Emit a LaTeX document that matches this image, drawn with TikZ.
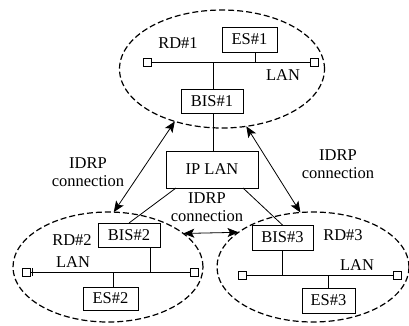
\documentclass[tikz,border=0pt]{standalone}
\usepackage{fontspec}
\setmainfont{Liberation Serif}
\usetikzlibrary{shapes.geometric,arrows.meta,calc}
\begin{document}
\begin{tikzpicture}[x=1pt,y=-1pt,
  font=\fontsize{16.5}{18}\selectfont,
  box/.style={draw,line width=0.8pt,inner sep=0pt,outer sep=0pt},
  term/.style={draw,line width=0.8pt,minimum size=8pt,inner sep=0pt,outer sep=0pt},
  rd/.style={draw,ellipse,dash pattern=on 6pt off 3pt,line width=1.2pt,inner sep=0pt,outer sep=0pt},
  wire/.style={line width=0.8pt},
  idrp/.style={line width=0.8pt,{Stealth[length=11pt,width=9pt,inset=2.5pt]}-{Stealth[length=11pt,width=9pt,inset=2.5pt]}},
  lbl/.style={inner sep=0pt,align=center}]
\useasboundingbox (0,0) rectangle (409,325);
% routing domains
\node[rd,minimum width=205pt,minimum height=118pt] (rd1) at (222,69) {};
\node[rd,minimum width=190pt,minimum height=110pt] (rd2) at (108,267) {};
\node[rd,minimum width=192pt,minimum height=110pt] (rd3) at (313,267) {};
% boxes
\node[box,minimum width=55pt,minimum height=25pt] (es1) at (249.5,39.5) {ES\#1};
\node[box,minimum width=62pt,minimum height=24pt] (bis1) at (212,101) {BIS\#1};
\node[box,minimum width=92pt,minimum height=37pt] (iplan) at (212,169.5) {IP LAN};
\node[box,minimum width=62pt,minimum height=24pt] (bis2) at (129,235) {BIS\#2};
\node[box,minimum width=55pt,minimum height=23pt] (es2) at (110.5,298.5) {ES\#2};
\node[box,minimum width=61pt,minimum height=25pt] (bis3) at (282.5,237.5) {BIS\#3};
\node[box,minimum width=53pt,minimum height=25pt] (es3) at (328.5,300.5) {ES\#3};
% LAN terminators
\node[term] (t1l) at (147,62.5) {};
\node[term] (t1r) at (314,62.5) {};
\node[term] (t2l) at (26,272) {};
\node[term] (t2r) at (194,272) {};
\node[term] (t3l) at (242.5,275) {};
\node[term] (t3r) at (397.5,275) {};
% LAN buses
\draw[wire] (t1l.east) -- (t1r.west);
\draw[wire] (t2l.east) -- (t2r.west);
\draw[wire] ([xshift=2pt]t2l.east) ++(0,-4) -- ++(0,8);
\draw[wire] (t3l.east) -- (t3r.west);
% drops
\draw[wire] ([xshift=5.5pt]es1.south) -- ([xshift=5.5pt]es1.south |- t1l.east);
\draw[wire] ([xshift=1pt]bis1.north) -- ([xshift=1pt]bis1.north |- t1l.east);
\draw[wire] ([xshift=1pt]bis1.south) -- ([xshift=1pt]bis1.south |- iplan.north);
\draw[wire] ([xshift=21pt]bis2.south) -- ([xshift=21pt]bis2.south |- t2l.east);
\draw[wire] ([xshift=2.5pt]es2.north) -- ([xshift=2.5pt]es2.north |- t2l.east);
\draw[wire] (bis3.south) -- (bis3.south |- t3l.east);
\draw[wire] (es3.north) -- (es3.north |- t3l.east);
% IP LAN links
\draw[wire] ([xshift=10pt]iplan.south west) -- (bis2.north);
\draw[wire] ([xshift=-15pt]iplan.south east) -- (bis3.north);
% IDRP connections
\draw[idrp] (rd1.228) -- (rd2.84);
\draw[idrp] (rd1.293) -- (rd3.103);
\draw[idrp] (rd2.24) -- (rd3.155);
% labels
\node[lbl] (rd1l) at (178,43) {RD\#1};
\node[lbl] (lan1) at (283,75) {LAN};
\node[lbl] (rd2l) at (72,240) {RD\#2};
\node[lbl] (lan2) at (73,262) {LAN};
\node[lbl] (rd3l) at (343,235) {RD\#3};
\node[lbl] (lan3) at (357,265) {LAN};
\node[lbl] (c1) at (88,172) {IDRP\\connection};
\node[lbl] (c2) at (338,164) {IDRP\\connection};
\node[lbl] (c3) at (207,207) {IDRP\\connection};
\end{tikzpicture}
\end{document}
